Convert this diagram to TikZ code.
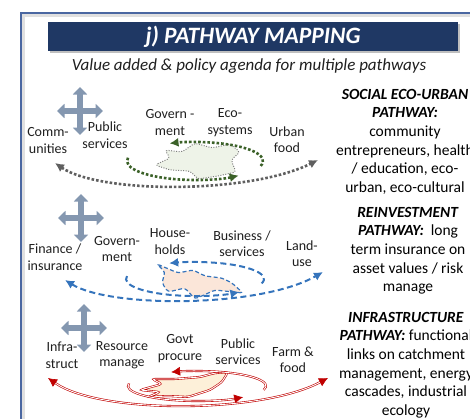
\documentclass[tikz,border=0pt]{standalone}
\usepackage{fontspec}
\setmainfont{Carlito}
\usetikzlibrary{arrows.meta,calc,shadows}
\definecolor{navy}{HTML}{1F3864}
\definecolor{framec}{HTML}{4A67A1}
\definecolor{crossc}{HTML}{8497B0}
\definecolor{greyc}{HTML}{5F5F5F}
\definecolor{greenc}{HTML}{3B6128}
\definecolor{bluec}{HTML}{3574BC}
\definecolor{redc}{HTML}{C00000}
\definecolor{greenfill}{HTML}{EEF3E8}
\definecolor{peachfill}{HTML}{FBE6D9}
\definecolor{creamfill}{HTML}{FDF0D9}
\newcommand{\pathhd}[1]{\textbf{\textit{#1}}}

\begin{document}
\begin{tikzpicture}[x=1pt,y=-1pt,
	every node/.style={align=center,inner sep=0pt,text=black!88},
	lbl/.style={font=\fontsize{14}{16.5}\selectfont},
	txt/.style={font=\fontsize{15.5}{18.6}\selectfont,anchor=north,text=black},
	cross/.style={crossc,line width=6pt,{Triangle[width=14pt,length=7.5pt]}-{Triangle[width=14pt,length=7.5pt]}},
	dots/.style={line width=2.6pt,dash pattern=on 2.6pt off 2pt},
	dashes/.style={line width=2pt,dash pattern=on 6pt off 3.5pt},
	twin/.style={redc,line width=0.6pt,double=white,double distance=0.9pt},
	tip/.style={-{Latex[length=9pt,width=9pt]}},
	tips/.style={{Latex[length=9pt,width=9pt]}-{Latex[length=9pt,width=9pt]}}
]
	\useasboundingbox (0,0) rectangle (470,418);

	\draw[black!12,line width=3pt] (23.5,480) -- (23.5,15.5) -- (480,15.5);
	\draw[framec,line width=1.2pt] (21,480) -- (21,13) -- (480,13);

	\node[fill=navy,minimum width=410pt,minimum height=29pt,drop shadow,text=white,
		font=\fontsize{23.5}{26}\selectfont\bfseries\itshape] (title) at (253,36.5) {j) PATHWAY MAPPING};
	\node[font=\fontsize{17}{19}\selectfont\itshape] (sub) at (249,66) {Value added \& policy agenda for multiple pathways};

	\node[txt] (social) at (405,89) {\pathhd{SOCIAL ECO-URBAN}\\\pathhd{PATHWAY:}\\community\\entrepreneurs, health\\/ education, eco-\\urban, eco-cultural};
	\node[txt] (reinv) at (408,207) {\pathhd{REINVESTMENT}\\\pathhd{PATHWAY:}\ \ long\\term insurance on\\asset values / risk\\manage};
	\node[txt] (infra) at (406,312) {\pathhd{INFRASTRUCTURE}\\\pathhd{PATHWAY:} functional\\links on catchment\\management, energy\\cascades, industrial\\ecology};

	\coordinate (x1) at (80,111);
	\coordinate (x2) at (81,218);
	\coordinate (x3) at (84,328);
	\draw[cross] ([xshift=-23pt]x1) -- ([xshift=23pt]x1);
	\draw[cross] ([yshift=-24pt]x1) -- ([yshift=24pt]x1);
	\draw[cross] ([xshift=-23pt]x2) -- ([xshift=23pt]x2);
	\draw[cross] ([yshift=-24pt]x2) -- ([yshift=24pt]x2);
	\draw[cross] ([xshift=-23pt]x3) -- ([xshift=23pt]x3);
	\draw[cross] ([yshift=-24pt]x3) -- ([yshift=24pt]x3);

	\node[lbl] (comm) at (48,140.5) {Comm-\\unities};
	\node[lbl] (pub1) at (105,135) {Public\\services};
	\node[lbl] (gov1) at (170,122.5) {Govern -\\ment};
	\node[lbl] (eco) at (230,122.5) {Eco-\\systems};
	\node[lbl] (urban) at (287,139.5) {Urban\\food};

	\node[lbl] (fin) at (55,257) {Finance /\\insurance};
	\node[lbl] (gov2) at (117,249) {Govern-\\ment};
	\node[lbl] (house) at (170,241.5) {House-\\holds};
	\node[lbl] (bus) at (242,243.5) {Business /\\services};
	\node[lbl] (land) at (302,253.5) {Land-\\use};

	\node[lbl] (inf) at (62,355) {Infra-\\struct};
	\node[lbl] (res) at (122,355) {Resource\\manage};
	\node[lbl] (govt) at (180,348.5) {Govt\\procure};
	\node[lbl] (pub3) at (238,351.5) {Public\\services};
	\node[lbl] (farm) at (293,360) {Farm \&\\food};

	\draw[greyc!80,fill=greenfill,line width=1pt,dash pattern=on 1pt off 1.5pt,rounded corners=3pt]
		(155,165) -- (170,158) -- (165,150) -- (182,152) -- (195,143) -- (212,148) -- (230,144) -- (240,152)
		-- (231,160) -- (236,172) -- (218,176) -- (198,179) -- (190,171) -- (170,170) -- cycle;
	\coordinate (c1) at (195,161);
	\draw[greenc,dots,tip] ($(c1)+(15:68 and 19)$) arc[start angle=15,end angle=-112,x radius=68,y radius=19];
	\draw[greenc,dots,tip] ($(c1)+(190:68 and 19)$) arc[start angle=190,end angle=50,x radius=68,y radius=19];
	\coordinate (g1) at (55,163);
	\coordinate (g2) at (318,160);
	\draw[greyc,dots,tips] (g1) .. controls (100,194) and (250,194) .. (g2);

	\draw[bluec,fill=peachfill,line width=1.2pt,dash pattern=on 4pt off 2.5pt,rounded corners=3pt]
		(157,264) -- (165,272) -- (162,283) -- (168,292) -- (185,288) -- (195,299) -- (215,290) -- (243,293)
		-- (232,283) -- (222,278) -- (205,276) -- (193,270) -- (178,273) -- cycle;
	\coordinate (c2) at (195,279);
	\draw[bluec,dashes,tip] ($(c2)+(15:69 and 17)$) arc[start angle=15,end angle=-112,x radius=69,y radius=17];
	\draw[bluec,dashes,tip] ($(c2)+(190:69 and 17)$) arc[start angle=190,end angle=50,x radius=69,y radius=17];
	\coordinate (b1) at (65,280);
	\coordinate (b2) at (323,272);
	\draw[bluec,dashes,tips] (b1) .. controls (110,308) and (260,308) .. (b2);

	\draw[twin,fill=creamfill,rounded corners=3pt]
		(140,390) -- (162,384) -- (152,379) -- (175,379) -- (200,377) -- (215,373) -- (228,372) -- (222,382)
		-- (210,390) -- (188,397) -- (168,396) -- (148,397) -- (160,392) -- cycle;
	\coordinate (c3) at (197,386);
	\draw[twin,tip] ($(c3)+(15:69 and 15)$) arc[start angle=15,end angle=-112,x radius=69,y radius=15];
	\draw[twin,tip] ($(c3)+(190:69 and 15)$) arc[start angle=190,end angle=48,x radius=69,y radius=15];
	\coordinate (r1) at (48,378);
	\coordinate (r2) at (328,378);
	\draw[twin,tips] (r1) .. controls (100,414) and (260,414) .. (r2);
\end{tikzpicture}
\end{document}
